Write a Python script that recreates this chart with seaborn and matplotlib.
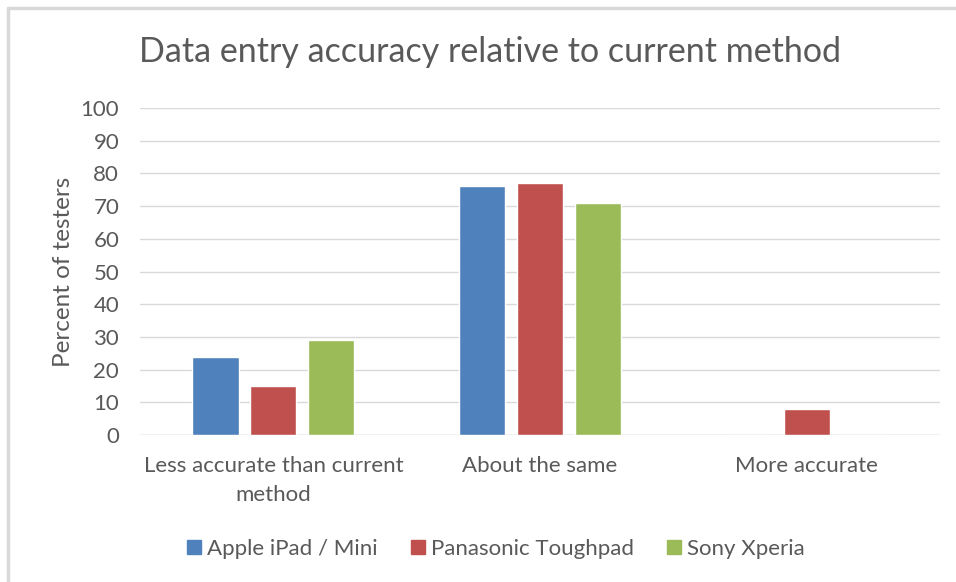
import pandas as pd
import matplotlib.pyplot as plt
import seaborn as sns
from matplotlib.lines import Line2D

# Data
categories = ['Less accurate than current\nmethod', 'About the same', 'More accurate']
devices = ['Apple iPad / Mini', 'Panasonic Toughpad', 'Sony Xperia']
apple = [24, 76, 0]
panasonic = [15, 77, 8]
sony = [29, 71, 0]
colors = ['#4f81bd', '#c0504d', '#9bbb59']

df = pd.DataFrame({
    'Category': categories * 3,
    'Device': [devices[0]] * 3 + [devices[1]] * 3 + [devices[2]] * 3,
    'Percent': apple + panasonic + sony,
})

sns.set_theme(style='white')
plt.rcParams['font.family'] = ['Lato', 'DejaVu Sans']
text_gray = '#595959'

fig = plt.figure(figsize=(9.56, 5.82), dpi=100)
ax = fig.add_axes([140 / 956, 1 - 435 / 582, 800 / 956, 327 / 582])

sns.barplot(data=df, x='Category', y='Percent', hue='Device',
            palette=colors, saturation=1, width=0.65, gap=0.2, ax=ax, legend=False)

ax.set_ylim(0, 100)
ax.set_yticks(range(0, 101, 10))
ax.set_xlim(-0.5, 2.5)
ax.yaxis.grid(True, color='#d9d9d9', linewidth=1)
ax.set_axisbelow(True)
sns.despine(ax=ax, left=True, bottom=True)
ax.axhline(0, color='#d9d9d9', linewidth=1, zorder=0)
ax.tick_params(axis='both', length=0, labelcolor=text_gray)
ax.tick_params(axis='y', labelsize=16, pad=15)
ax.tick_params(axis='x', labelsize=16, pad=15)
for lbl in ax.get_xticklabels():
    lbl.set_linespacing(1.6)
ax.set_xlabel('')
ax.set_ylabel('Percent of testers', fontsize=17.5, color=text_gray, labelpad=5)

fig.suptitle('Data entry accuracy relative to current method',
             x=490 / 956, y=1 - 52 / 582, va='center', fontsize=24.5, color=text_gray)

handles = [Line2D([0], [0], marker='s', linestyle='', markersize=10,
                  markerfacecolor=c, markeredgecolor=c) for c in colors]
fig.legend(handles, devices, loc='center', bbox_to_anchor=(494 / 956, 1 - 549 / 582),
           ncol=3, frameon=False, fontsize=16, labelcolor=text_gray,
           handletextpad=0.1, columnspacing=1.3, handlelength=1)

# light frame along top and left edges
fig.add_artist(Line2D([8 / 956, 8 / 956], [0, 1 - 8 / 582], color='#d9d9d9', linewidth=2.5,
                      transform=fig.transFigure))
fig.add_artist(Line2D([8 / 956, 1], [1 - 8 / 582, 1 - 8 / 582], color='#d9d9d9', linewidth=2.5,
                      transform=fig.transFigure))

fig.savefig('out.png', dpi=100)
